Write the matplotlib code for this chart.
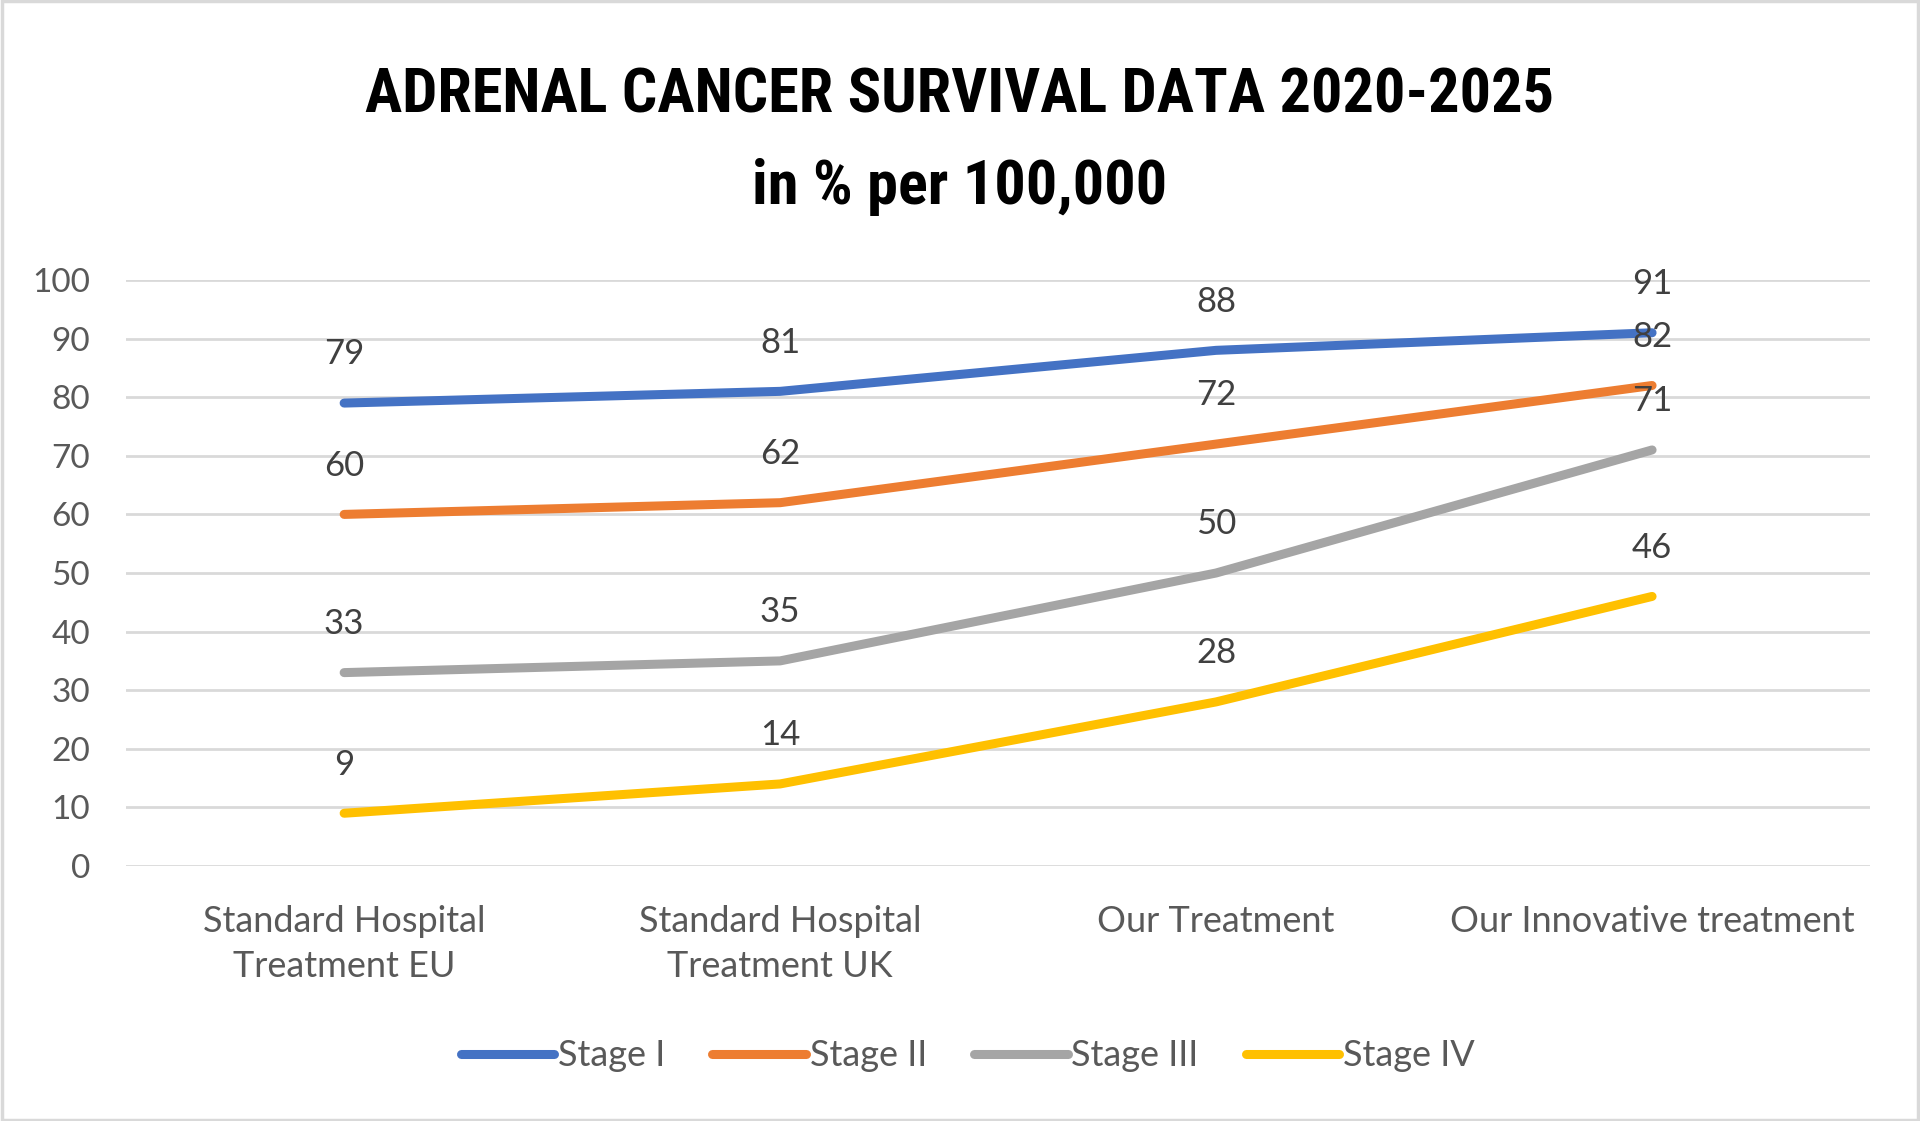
import matplotlib.pyplot as plt
from matplotlib import font_manager

# Données
categories = ["Standard Hospital\nTreatment EU", "Standard Hospital\nTreatment UK",
              "Our Treatment", "Our Innovative treatment"]
stage_1 = [79, 81, 88, 91]
stage_2 = [60, 62, 72, 82]
stage_3 = [33, 35, 50, 71]
stage_4 = [9, 14, 28, 46]
series_names = ["Stage I", "Stage II", "Stage III", "Stage IV"]
y_ticks = [0, 10, 20, 30, 40, 50, 60, 70, 80, 90, 100]

colors = ["#4472C4", "#ED7D31", "#A5A5A5", "#FFC000"]

# Police du titre : une police étroite si disponible
installed = {f.name for f in font_manager.fontManager.ttflist}
title_font = "DejaVu Sans"
for cand in ["Roboto Condensed", "Open Sans Condensed", "Liberation Sans Narrow",
             "DejaVu Sans Condensed"]:
    if cand in installed:
        title_font = cand
        break
body_font = "Lato"

fig = plt.figure(figsize=(19.2, 11.21), dpi=100)
ax = fig.add_axes([0.0657, 0.2275, 0.9083, 0.5227])

x = [i + 0.5 for i in range(len(categories))]
for vals, name, col in zip([stage_1, stage_2, stage_3, stage_4], series_names, colors):
    ax.plot(x, vals, color=col, linewidth=6.5, solid_capstyle="round",
            solid_joinstyle="round", label=name, zorder=3)
    for xi, v in zip(x, vals):
        ax.annotate(str(v), (xi, v), xytext=(0, 35), textcoords="offset points",
                    ha="center", va="center", fontsize=25, color="#404040",
                    family=body_font, zorder=4)

ax.set_xlim(0, len(categories))
ax.set_ylim(0, 100)
ax.set_yticks(y_ticks)
ax.set_xticks(x)
ax.set_xticklabels(categories, fontsize=26, color="#595959", family=body_font,
                   linespacing=1.45)
for lbl in ax.get_yticklabels():
    lbl.set_fontsize(24)
    lbl.set_color("#595959")
    lbl.set_family(body_font)
ax.tick_params(axis="both", length=0)
ax.tick_params(axis="x", pad=28)
ax.tick_params(axis="y", pad=26)
ax.grid(axis="y", color="#D9D9D9", linewidth=2)
ax.set_axisbelow(True)
for s in ax.spines.values():
    s.set_visible(False)

t1 = fig.text(0.5, 0.915, "ADRENAL CANCER SURVIVAL DATA 2020-2025", ha="center", va="center",
              fontsize=52, fontweight="bold", family=title_font, fontstretch="condensed",
              color="black")
t2 = fig.text(0.5, 0.833, "in % per 100,000", ha="center", va="center",
              fontsize=52, fontweight="bold", family=title_font, fontstretch="condensed",
              color="black")

# Ajuster la taille du titre à la largeur voulue (~1190 px)
renderer = fig.canvas.get_renderer()
w = t1.get_window_extent(renderer).width
taille = min(62, 52 * 1190 / w)
t1.set_fontsize(taille)
t2.set_fontsize(taille)

leg = fig.legend(loc="center", bbox_to_anchor=(0.504, 0.058), ncol=4, frameon=False,
                 handlelength=2.6, handletextpad=0.1, columnspacing=1.3,
                 prop={"family": body_font, "size": 26})
for t in leg.get_texts():
    t.set_color("#595959")

# Bordure grise autour du graphique
fig.patches.append(plt.Rectangle((0.001, 0.001), 0.998, 0.998, transform=fig.transFigure,
                                 fill=False, edgecolor="#D9D9D9", linewidth=2.5))

fig.savefig("out.png", dpi=100, facecolor="white")
